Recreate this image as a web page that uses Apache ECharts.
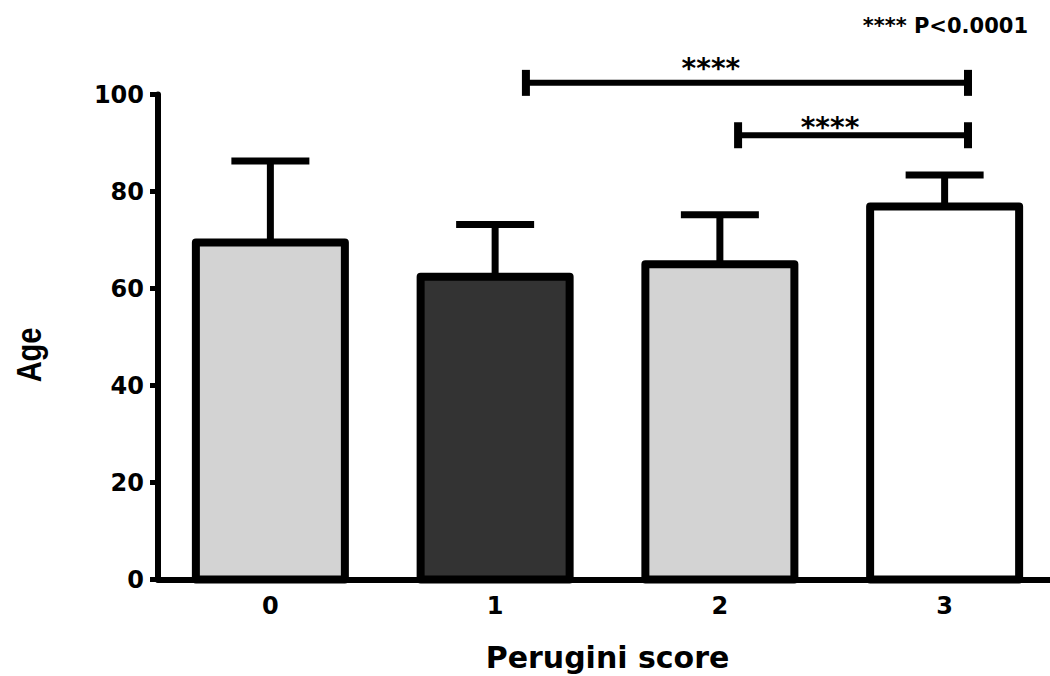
<!DOCTYPE html>
<html>
<head>
<meta charset="utf-8">
<script src="https://cdn.jsdelivr.net/npm/echarts@6/dist/echarts.min.js"></script>
<style>
html,body{margin:0;padding:0;background:#fff;}
#chart{width:1050px;height:676px;}
</style>
</head>
<body>
<div id="chart"></div>
<script>
// ---- data ----
const categories = ['0', '1', '2', '3'];
const means = [69.5, 62.4, 65.0, 76.9];
const upperErr = [86.3, 73.2, 75.2, 83.4];
const barColors = ['#d3d3d3', '#333333', '#d3d3d3', '#ffffff'];
const yTicks = [0, 20, 40, 60, 80, 100];
// significance brackets (x in category units, y in axis units)
const bracketFrom = [1.137, 2.081];
const bracketTo = [3.104, 3.104];
const bracketY = [102.4, 91.6];
const bracketLabel = ['****', '****'];
const bracketLabelX = [1.96, 2.49];
const bracketLabelY = [105.3, 93.2];
const noteText = '**** P<0.0001';
const xTitle = 'Perugini score';
const yTitle = 'Age';

const FONT = 'DejaVu Sans';

const chart = echarts.init(document.getElementById('chart'), null, {renderer: 'svg'});

const barData = means.map((v, i) => [i, v]);
const errData = means.map((v, i) => [i, v, upperErr[i]]);
const bracketData = bracketFrom.map((f, i) => [f, bracketTo[i], bracketY[i], bracketLabelX[i], bracketLabelY[i], i]);

const option = {
  animation: false,
  backgroundColor: '#ffffff',
  grid: {left: 158, top: 94.5, width: 899, height: 485, containLabel: false, outerBoundsMode: 'none'},
  xAxis: [{
    type: 'category',
    data: categories,
    boundaryGap: true,
    axisLine: {lineStyle: {color: '#000', width: 6}},
    axisTick: {alignWithLabel: true, length: 8, lineStyle: {color: '#000', width: 5}},
    axisLabel: {color: '#000', fontFamily: FONT, fontWeight: 'bold', fontSize: 24, margin: 14},
    name: xTitle,
    nameLocation: 'middle',
    nameGap: 63,
    nameTextStyle: {color: '#000', fontFamily: FONT, fontWeight: 'bold', fontSize: 30}
  }, {
    type: 'value',
    min: -0.5,
    max: 3.5,
    show: false
  }],
  yAxis: [{
    type: 'value',
    min: 0,
    max: 100,
    interval: 20,
    axisLine: {show: true, onZero: false, lineStyle: {color: '#000', width: 6}},
    axisTick: {show: true, length: 8, lineStyle: {color: '#000', width: 5}},
    axisLabel: {color: '#000', fontFamily: FONT, fontWeight: 'bold', fontSize: 24, margin: 14,
      formatter: v => (yTicks.indexOf(v) >= 0 ? String(v) : '')},
    splitLine: {show: false}
  }],
  graphic: [{
    type: 'text',
    right: 22,
    top: 15,
    style: {text: noteText, fill: '#000', font: 'bold 21px "' + FONT + '"'}
  }, {
    type: 'text',
    x: 29,
    y: 355,
    rotation: Math.PI / 2,
    scaleY: 1.2,
    style: {text: yTitle, fill: '#000', font: 'bold 29px "Liberation Sans"', textAlign: 'center', textVerticalAlign: 'middle'}
  }],
  series: [{
    type: 'custom',
    xAxisIndex: 0,
    data: barData,
    z: 2,
    renderItem: function (params, api) {
      const idx = api.value(0);
      const top = api.coord([idx, api.value(1)]);
      const bottom = api.coord([idx, 0]);
      const w = 149;
      return {
        type: 'rect',
        shape: {x: top[0] - w / 2, y: top[1], width: w, height: bottom[1] - top[1]},
        style: {fill: barColors[idx], stroke: '#000', lineWidth: 8, lineJoin: 'round'}
      };
    }
  }, {
    type: 'custom',
    xAxisIndex: 0,
    data: errData,
    z: 3,
    renderItem: function (params, api) {
      const base = api.coord([api.value(0), api.value(1)]);
      const top = api.coord([api.value(0), api.value(2)]);
      const capHalf = 39;
      return {
        type: 'group',
        children: [{
          type: 'line',
          shape: {x1: top[0], y1: base[1], x2: top[0], y2: top[1]},
          style: {stroke: '#000', lineWidth: 7}
        }, {
          type: 'line',
          shape: {x1: top[0] - capHalf, y1: top[1], x2: top[0] + capHalf, y2: top[1]},
          style: {stroke: '#000', lineWidth: 7}
        }]
      };
    }
  }, {
    type: 'custom',
    xAxisIndex: 1,
    data: bracketData,
    z: 4,
    clip: false,
    renderItem: function (params, api) {
      const p1 = api.coord([api.value(0), api.value(2)]);
      const p2 = api.coord([api.value(1), api.value(2)]);
      const lp = api.coord([api.value(3), api.value(4)]);
      const idx = api.value(5);
      const tick = 13;
      return {
        type: 'group',
        children: [{
          type: 'line',
          shape: {x1: p1[0], y1: p1[1], x2: p2[0], y2: p2[1]},
          style: {stroke: '#000', lineWidth: 6}
        }, {
          type: 'line',
          shape: {x1: p1[0], y1: p1[1] - tick, x2: p1[0], y2: p1[1] + tick},
          style: {stroke: '#000', lineWidth: 8}
        }, {
          type: 'line',
          shape: {x1: p2[0], y1: p2[1] - tick, x2: p2[0], y2: p2[1] + tick},
          style: {stroke: '#000', lineWidth: 8}
        }, {
          type: 'text',
          x: lp[0],
          y: lp[1],
          style: {text: bracketLabel[idx], fill: '#000', font: 'bold 28px "' + FONT + '"', textAlign: 'center', textVerticalAlign: 'middle'}
        }]
      };
    }
  }]
};

chart.setOption(option);
</script>
</body>
</html>
